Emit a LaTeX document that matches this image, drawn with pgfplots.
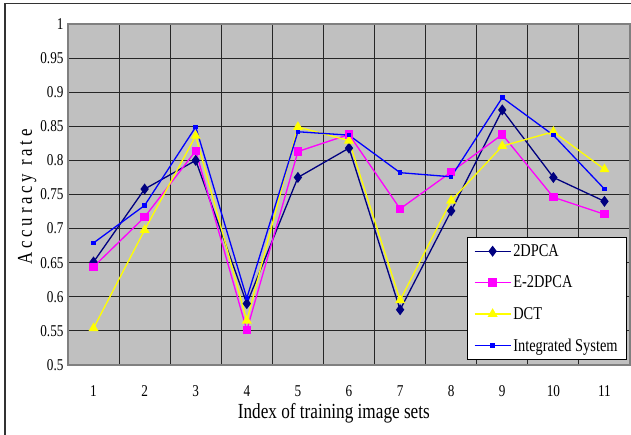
\documentclass[border=0pt]{standalone}
\usepackage{fontspec}
\setmainfont{Liberation Serif}[FakeStretch=0.8]
\newfontfamily\ylabfont{Liberation Serif}[FakeStretch=0.8, LetterSpace=18]
\usepackage{pgfplots}
\pgfplotsset{compat=1.18}
\definecolor{bgc}{HTML}{C0C0C0}
\definecolor{cnavy}{HTML}{000080}
\definecolor{cmag}{HTML}{FF00FF}
\definecolor{cyel}{HTML}{FFFF00}
\definecolor{cblue}{HTML}{0000FF}
\begin{document}
\begin{tikzpicture}
\begin{axis}[
  scale only axis, width=562bp, height=341bp,
  xmin=0.5, xmax=11.5, ymin=0.5, ymax=1,
  xtick={1,2,3,4,5,6,7,8,9,10,11},
  minor xtick={1.5,2.5,3.5,4.5,5.5,6.5,7.5,8.5,9.5,10.5},
  ytick={0.5,0.55,0.6,0.65,0.7,0.75,0.8,0.85,0.9,0.95,1},
  yticklabels={0.5,0.55,0.6,0.65,0.7,0.75,0.8,0.85,0.9,0.95,1},
  xticklabels={1,2,3,4,5,6,7,8,9,10,11},
  ymajorgrids, xminorgrids,
  major grid style={black!85, line width=1bp},
  minor grid style={black!85, line width=1bp},
  major tick length=0pt, minor tick length=0pt,
  axis background/.style={fill=bgc},
  axis line style={black!50, line width=1.2bp},
  tick label style={font=\fontsize{16.5bp}{18bp}\selectfont},
  /pgf/number format/assume math mode=true,
  xticklabel style={yshift=-17bp},
  yticklabel style={xshift=-1bp},
  xlabel={Index of training image sets},
  xlabel style={at={(rel axis cs:0.473,0)}, anchor=base, yshift=-53bp, font=\fontsize{21.5bp}{24bp}\selectfont},
  ylabel={Accuracy rate},
  ylabel style={at={(rel axis cs:0,0.493)}, anchor=base, yshift=36bp, font=\ylabfont\fontsize{21bp}{23bp}\selectfont},
  legend style={at={(rel axis cs:0.9947,0.375)}, anchor=north east, draw=black, fill=white,
    font=\fontsize{18bp}{20bp}\selectfont, row sep=14bp, inner xsep=7bp, inner ysep=5bp,
    line width=0.8bp},
  legend cell align=left,
  legend image code/.code={\draw[mark repeat=2,mark phase=2] plot coordinates {(0bp,0bp) (18bp,0bp) (36bp,0bp)};},
  every axis plot/.append style={line width=1.3bp},
]
\addplot[cnavy, mark=diamond*, mark size=4.5bp, mark options={solid, fill=cnavy}] coordinates {
(1,0.651) (2,0.758) (3,0.800) (4,0.590) (5,0.775) (6,0.818) (7,0.581) (8,0.726) (9,0.874) (10,0.775) (11,0.740)};
\addlegendentry{2DPCA}
\addplot[cmag, mark=square*, mark size=3.5bp, mark options={solid, fill=cmag}] coordinates {
(1,0.644) (2,0.717) (3,0.814) (4,0.551) (5,0.813) (6,0.838) (7,0.729) (8,0.783) (9,0.838) (10,0.746) (11,0.721)};
\addlegendentry{E-2DPCA}
\addplot[cyel, mark=triangle*, mark size=4.5bp, mark options={solid, fill=cyel}] coordinates {
(1,0.554) (2,0.698) (3,0.836) (4,0.565) (5,0.849) (6,0.829) (7,0.595) (8,0.741) (9,0.821) (10,0.842) (11,0.787)};
\addlegendentry{DCT}
\addplot[cblue, mark=square*, mark size=1.6bp, mark options={solid, fill=cblue}] coordinates {
(1,0.679) (2,0.734) (3,0.849) (4,0.598) (5,0.842) (6,0.837) (7,0.782) (8,0.776) (9,0.892) (10,0.837) (11,0.758)};
\addlegendentry{Integrated System}
\end{axis}
\path[use as bounding box] ([xshift=-68bp,yshift=-70bp]current axis.south west) rectangle ([xshift=1bp,yshift=24bp]current axis.north east);
\draw[line width=1.6bp, black!80] ([xshift=-63bp,yshift=-72bp]current axis.south west) -- ([xshift=-63bp,yshift=20.5bp]current axis.north west) -- ([xshift=3bp,yshift=20.5bp]current axis.north east);
\end{tikzpicture}
\end{document}
